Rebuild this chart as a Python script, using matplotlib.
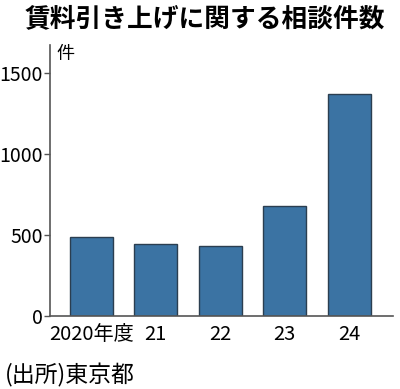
import matplotlib
matplotlib.use("Agg")
import matplotlib.pyplot as plt

plt.rcParams['font.family'] = ['Noto Sans CJK JP', 'DejaVu Sans']

years = ["2020年度", "21", "22", "23", "24"]
counts = [490, 443, 432, 678, 1370]
yticks = [0, 500, 1000, 1500]

fig = plt.figure(figsize=(4, 3.89), dpi=100)
ax = fig.add_axes([50 / 400, (389 - 316) / 389, (393 - 50) / 400, (316 - 45) / 389])

x = list(range(len(years)))
ax.bar(x, counts, width=0.67, color="#3b73a3", edgecolor="#2b3e50", linewidth=1.0, zorder=2)

ax.set_xlim(-0.64, 4.68)
ax.set_ylim(0, 1673)
ax.set_yticks(yticks)
ax.set_yticklabels([str(v) for v in yticks], fontsize=14)
ax.set_xticks(x)
ax.set_xticklabels(years, fontsize=14.5)
ax.tick_params(axis="x", length=0, pad=6)
ax.tick_params(axis="y", length=4, width=1, color="#555555", pad=1)

for s in ["top", "right"]:
    ax.spines[s].set_visible(False)
for s in ["left", "bottom"]:
    ax.spines[s].set_color("#555555")
    ax.spines[s].set_linewidth(1.2)

ax.text(0.018, 1.0, "件", transform=ax.transAxes, fontsize=13, va="top", ha="left")

fig.text(0.5125, 0.953, "賃料引き上げに関する相談件数", fontsize=18.5, fontweight="bold",
         ha="center", va="center")
fig.text(0.012, 0.036, "(出所)東京都", fontsize=16.5, ha="left", va="center")

fig.savefig("out.png", dpi=100)
